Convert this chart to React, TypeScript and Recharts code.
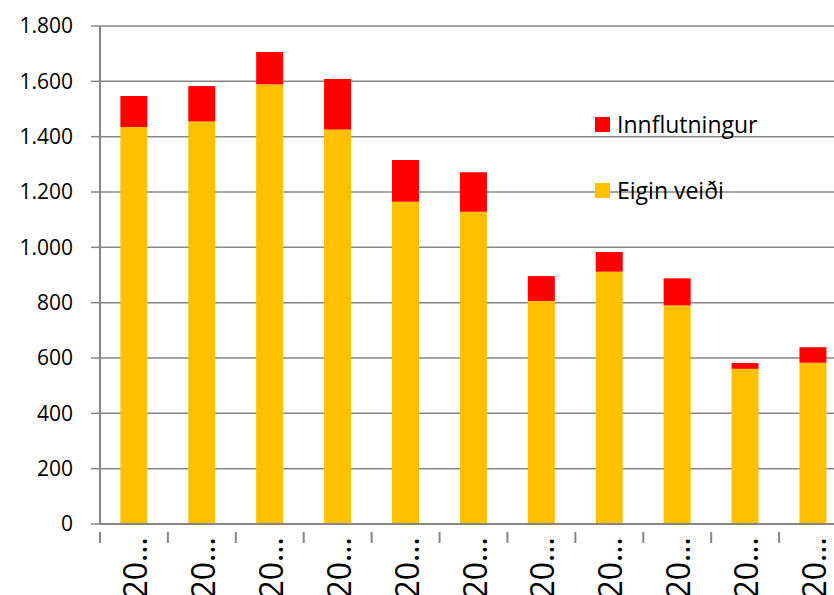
import React from "react";
import { Bar, BarChart, CartesianGrid, XAxis, YAxis } from "recharts";

const labels = ["20…", "20…", "20…", "20…", "20…", "20…", "20…", "20…", "20…", "20…", "20…"];
const eiginVeidi = [1435, 1455, 1589, 1426, 1165, 1129, 806, 912, 790, 561, 583];
const innflutningur = [112, 128, 117, 182, 151, 142, 90, 71, 98, 21, 56];
const yTicks = [0, 200, 400, 600, 800, 1000, 1200, 1400, 1600, 1800];

const data = labels.map((name, i) => ({
  name,
  eigin: eiginVeidi[i],
  innfl: innflutningur[i],
}));

const FONT = "'Open Sans', sans-serif";
const GRAY = "#868686";
const BAND = 747 / labels.length;

const fmt = (v: number) => v.toLocaleString("de-DE");

function XTick(props: any) {
  const { x, y, payload } = props;
  return (
    <g>
      <line x1={x - BAND / 2} x2={x - BAND / 2} y1={y} y2={y + 11} stroke={GRAY} strokeWidth={2} />
      <text
        x={x + 13}
        y={537}
        transform={`rotate(-90, ${x + 13}, 537)`}
        textAnchor="end"
        fontFamily={FONT}
        fontSize={32}
        fill="#000"
      >
        {payload.value}
      </text>
    </g>
  );
}

function LegendBox() {
  const items = [
    { label: "Innflutningur", color: "#FF0000" },
    { label: "Eigin veiði", color: "#FFC000" },
  ];
  return (
    <div style={{ position: "absolute", left: 595, top: 91, fontFamily: FONT, fontSize: 23, color: "#000" }}>
      {items.map((it) => (
        <div key={it.label} style={{ display: "flex", alignItems: "center", height: 66 }}>
          <span style={{ width: 15, height: 15, background: it.color, marginRight: 7 }} />
          <span>{it.label}</span>
        </div>
      ))}
    </div>
  );
}

export default function App() {
  return (
    <div style={{ position: "absolute", left: 0, top: 0, width: 834, height: 595, overflow: "hidden", background: "#fff" }}>
      <BarChart width={860} height={595} data={data} margin={{ top: 26, right: 13, left: 0, bottom: 0 }} barCategoryGap="30%">
        <CartesianGrid vertical={false} stroke={GRAY} strokeWidth={1.5} />
        <XAxis
          dataKey="name"
          height={71}
          tickLine={false}
          axisLine={{ stroke: GRAY, strokeWidth: 2 }}
          tick={<XTick />}
          interval={0}
        />
        <YAxis
          width={100}
          domain={[0, 1800]}
          ticks={yTicks}
          tickFormatter={fmt}
          tickSize={9}
          tickMargin={18}
          tickLine={{ stroke: GRAY, strokeWidth: 1.5 }}
          axisLine={{ stroke: GRAY, strokeWidth: 2 }}
          tick={{ fill: "#000", fontFamily: FONT, fontSize: 21 }}
        />
        <Bar dataKey="eigin" name="Eigin veiði" stackId="a" fill="#FFC000" isAnimationActive={false} />
        <Bar dataKey="innfl" name="Innflutningur" stackId="a" fill="#FF0000" isAnimationActive={false} />
      </BarChart>
      <LegendBox />
    </div>
  );
}
